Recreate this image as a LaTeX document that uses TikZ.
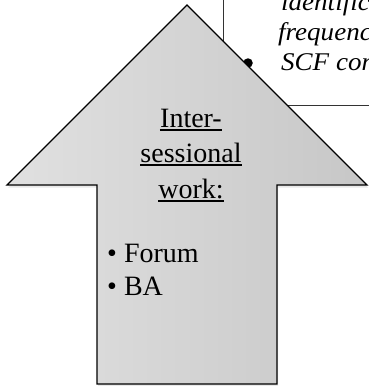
\documentclass[tikz,border=0pt]{standalone}
\usepackage{fontspec}
\setmainfont{Liberation Serif}
\newfontfamily\notafont{Liberation Serif}[FakeStretch=1.06]
\usetikzlibrary{shadows}

\begin{document}
\begin{tikzpicture}[x=1pt, y=-1pt,
    freccia/.style={draw=black, line width=1.4pt, line join=miter,
        left color=black!12, right color=black!22,
        drop shadow={shadow xshift=1pt, shadow yshift=-2.5pt, opacity=0.18}},
    titolo/.style={anchor=base, inner sep=0pt, font=\fontsize{28}{36}\selectfont},
    voce/.style={anchor=base west, inner sep=0pt, font=\fontsize{28}{33}\selectfont},
    nota/.style={anchor=base west, inner sep=0pt, font=\notafont\fontsize{25.5}{30}\selectfont\itshape},
    sottolinea/.style={line width=1.6pt}]

    % area del disegno
    \useasboundingbox (0,0) rectangle (369,386);
    \clip (0,0) rectangle (369,386);

    % =========================================
    % === Riquadro a destra (dietro la freccia) ===
    % =========================================
    \draw[line width=1pt, black!80] (223,-10) -- (223,105) -- (380,105);

    \node[nota] (r1) at (281,10) {identific};
    \node[nota] (r2) at (278,40) {frequenc};
    \node[nota] (r3) at (281,70) {SCF com};
    \node[circle, fill=black, inner sep=0pt, minimum size=9.5pt] (p3) at (248,63) {};

    % =========================================
    % === Freccia verso l'alto ===
    % =========================================
    \path[freccia] (187,5) -- (367,185) -- (277,185) -- (277,384)
        -- (97,384) -- (97,185) -- (7,185) -- cycle;

    % Titolo sottolineato
    \node[titolo] (t1) at (191,127) {Inter-};
    \node[titolo] (t2) at (191,162) {sessional};
    \node[titolo] (t3) at (191,198) {work:};
    \draw[sottolinea] ([yshift=-3pt]t1.base west) -- ([yshift=-3pt]t1.base east);
    \draw[sottolinea] ([yshift=-3pt]t2.base west) -- ([yshift=-3pt]t2.base east);
    \draw[sottolinea] ([yshift=-3pt]t3.base west) -- ([yshift=-3pt]t3.base east);

    % Elenco puntato
    \node[voce] (v1) at (107,262) {\textbullet\ Forum};
    \node[voce] (v2) at (107,295) {\textbullet\ BA};

\end{tikzpicture}
\end{document}
